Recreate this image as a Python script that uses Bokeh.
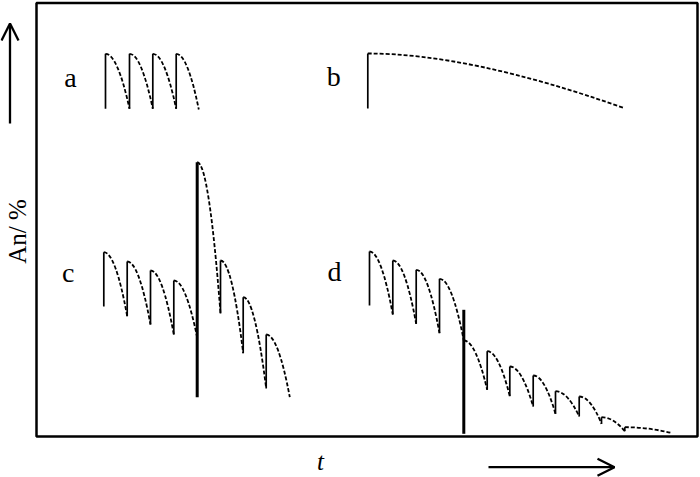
from bokeh.plotting import figure
from bokeh.models import Range1d, Arrow, OpenHead
from bokeh.core.properties import value
from bokeh.embed import file_html
from bokeh.resources import INLINE
import math

# ---- data (schematic, in drawing units; y grows downward) ----
# panel a: repeated small additions
a_jump_x = [105, 129, 152.3, 175.7]
a_jump_top = [53.3, 53.3, 53.3, 53.3]
a_jump_bottom = [108.3, 108.3, 108.3, 108.3]
a_curve_x0 = [105, 129, 152.3, 175.7]
a_curve_y0 = [53.3, 53.3, 53.3, 53.3]
a_curve_x1 = [129, 152.3, 175.7, 198.3]
a_curve_y1 = [108.3, 108.3, 108.3, 109]

# panel b: one addition, slow decay
b_jump_x = [367.3]
b_jump_top = [53]
b_jump_bottom = [108]
b_curve_x0 = [367.3]
b_curve_y0 = [53]
b_curve_x1 = [622.7]
b_curve_y1 = [107.3]

# panel c
c_jump_x = [103.3, 126.7, 150, 173.3, 220, 242.7, 265.7]
c_jump_top = [251.7, 261, 270, 280, 260, 296.7, 334]
c_jump_bottom = [306, 315.7, 324, 334, 313, 352.7, 388]
c_event_x = [196.7]
c_event_top = [161.7]
c_event_bottom = [396.7]
c_curve_x0 = [103.3, 126.7, 150, 173.3, 196.7, 220, 242.7, 265.7]
c_curve_y0 = [251.7, 261, 270, 280, 161.7, 260, 296.7, 334]
c_curve_x1 = [126.7, 150, 173.3, 196.7, 220, 242.7, 265.7, 289.3]
c_curve_y1 = [315.7, 324, 334, 337, 313, 352.7, 388, 396.7]

# panel d
d_jump_x = [369, 392.3, 415.7, 439, 486.7, 509.3, 532.7, 555, 578.7, 601, 624.3]
d_jump_top = [251, 260, 269.3, 278.3, 350.7, 366, 375, 390.7, 396, 416.7, 426.7]
d_jump_bottom = [305, 314, 323.3, 332.7, 389.3, 395.7, 406, 413.3, 416, 423.3, 430.7]
d_event_x = [463.3]
d_event_top = [309.3]
d_event_bottom = [433.3]
d_curve_x0 = [369, 392.3, 415.7, 439, 463.3, 486.7, 509.3, 532.7, 555, 578.7, 601, 624.3]
d_curve_y0 = [251, 260, 269.3, 278.3, 340, 350.7, 366, 375, 390.7, 396, 416.7, 426.7]
d_curve_x1 = [392.3, 415.7, 439, 463.3, 486.7, 509.3, 532.7, 555, 578.7, 601, 624.3, 671.7]
d_curve_y1 = [314, 323.3, 332.7, 340, 389.3, 395.7, 406, 413.3, 416, 423.3, 430.7, 432.7]

panel_labels = ["a", "b", "c", "d"]
label_x = [70, 333.3, 67.8, 334]
label_y = [77, 76, 272, 271]

# ---- figure ----
p = figure(width=700, height=477, x_range=Range1d(0, 700), y_range=Range1d(477, 0),
           output_backend="svg", toolbar_location=None, min_border=0)
p.axis.visible = False
p.grid.visible = False
p.outline_line_color = None
p.background_fill_color = "white"
p.border_fill_color = "white"

# frame box
p.quad(left=[36], right=[697], top=[2.5], bottom=[436], fill_color=None,
       line_color="black", line_width=2.5)

DASH = "4 2"


def draw_curves(x0, y0, x1, y1, k=0.5):
    cx = [a + k * (b - a) for a, b in zip(x0, x1)]
    cy = list(y0)
    p.quadratic(x0=x0, y0=y0, x1=x1, y1=y1, cx=cx, cy=cy,
                line_color="black", line_width=1.8, line_dash=DASH)


def draw_jumps(x, top, bottom, w=1.7):
    p.segment(x0=x, y0=bottom, x1=x, y1=top, line_color="black", line_width=w)


draw_jumps(a_jump_x, a_jump_top, a_jump_bottom)
draw_curves(a_curve_x0, a_curve_y0, a_curve_x1, a_curve_y1)

draw_jumps(b_jump_x, b_jump_top, b_jump_bottom)
draw_curves(b_curve_x0, b_curve_y0, b_curve_x1, b_curve_y1, k=0.4)

draw_jumps(c_jump_x, c_jump_top, c_jump_bottom)
draw_jumps(c_event_x, c_event_top, c_event_bottom, w=3)
draw_curves(c_curve_x0, c_curve_y0, c_curve_x1, c_curve_y1)

draw_jumps(d_jump_x, d_jump_top, d_jump_bottom)
draw_jumps(d_event_x, d_event_top, d_event_bottom, w=3)
draw_curves(d_curve_x0, d_curve_y0, d_curve_x1, d_curve_y1)

serif = value("Liberation Serif")

p.text(x=label_x, y=label_y, text=panel_labels, text_font=serif,
       text_font_size="28px", text_align="center", text_baseline="alphabetic",
       text_color="black")

# axis captions
p.text(x=[17], y=[231], text=["An/ %"], angle=math.pi / 2, text_font=serif,
       text_font_size="25px", text_align="center", text_baseline="alphabetic",
       text_color="black")
p.text(x=[320], y=[461], text=["t"], text_font=serif, text_font_style="italic",
       text_font_size="25px", text_align="center", text_baseline="alphabetic",
       text_color="black")

# arrows
p.add_layout(Arrow(end=OpenHead(size=17, line_width=2.3, line_color="black"),
                   x_start=9.5, y_start=123, x_end=9.5, y_end=23,
                   line_width=2.3, line_color="black"))
p.add_layout(Arrow(end=OpenHead(size=17, line_width=2.3, line_color="black"),
                   x_start=488, y_start=466.7, x_end=614, y_end=466.7,
                   line_width=2.3, line_color="black"))

open("out.html", "w").write(file_html(p, INLINE))
